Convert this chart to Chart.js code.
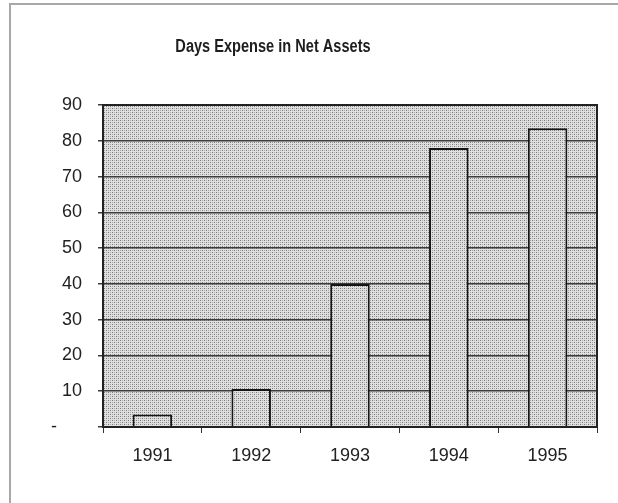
<!DOCTYPE html>
<html lang="en">
<head>
    <meta charset="UTF-8">
    <title>Days Expense in Net Assets</title>
    <script src="https://cdn.jsdelivr.net/npm/chart.js"></script>
    <style>
        html, body { margin: 0; padding: 0; background: #ffffff; }
        .wrap { position: relative; width: 618px; height: 503px; }
        .frame {
            position: absolute; left: 9px; top: 3px; right: -10px; bottom: -10px;
            border-left: 2px solid #a8a8a8; border-top: 2px solid #a8a8a8;
            pointer-events: none;
        }
        canvas { position: absolute; left: 0; top: 0; }
    </style>
</head>
<body>
    <div class="wrap">
        <canvas id="expenseChart" width="618" height="503"></canvas>
        <div class="frame"></div>
    </div>

    <script>
        // data
        const years = ['1991', '1992', '1993', '1994', '1995'];
        const daysExpense = [3.5, 10.6, 40, 78, 83.5];
        const yTicks = [0, 10, 20, 30, 40, 50, 60, 70, 80, 90];
        const chartTitle = 'Days Expense in Net Assets';

        // dotted fill like the printed screen
        function dotPattern() {
            const c = document.createElement('canvas');
            c.width = 4; c.height = 4;
            const g = c.getContext('2d');
            g.fillStyle = '#e0e0e0';
            g.fillRect(0, 0, 4, 4);
            g.fillStyle = '#7a7a7a';
            g.fillRect(0, 0, 1, 1);
            g.fillRect(2, 2, 1, 1);
            g.fillStyle = '#a8a8a8';
            g.fillRect(2, 0, 1, 1);
            g.fillRect(0, 2, 1, 1);
            return g.createPattern(c, 'repeat');
        }

        const ctx = document.getElementById('expenseChart').getContext('2d');
        const dots = dotPattern();

        // plot background, plot frame and the title
        const decor = {
            id: 'decor',
            beforeDraw(chart) {
                const a = chart.chartArea;
                const c = chart.ctx;
                c.save();
                c.fillStyle = dots;
                c.fillRect(a.left, a.top, a.right - a.left, a.bottom - a.top);
                c.restore();
            },
            afterDraw(chart) {
                const a = chart.chartArea;
                const c = chart.ctx;
                c.save();
                c.strokeStyle = '#222222';
                c.lineWidth = 2;
                c.strokeRect(a.left, a.top, a.right - a.left, a.bottom - a.top);
                // the scanned title is a condensed bold face
                c.translate(273, 47);
                c.scale(0.81, 1);
                c.fillStyle = '#1e1e1e';
                c.font = 'bold 18px "Liberation Sans", Arial, sans-serif';
                c.textAlign = 'center';
                c.textBaseline = 'middle';
                c.fillText(chartTitle, 0, 0);
                c.restore();
            }
        };

        new Chart(ctx, {
            type: 'bar',
            data: {
                labels: years,
                datasets: [{
                    data: daysExpense,
                    backgroundColor: dots,
                    borderColor: '#151515',
                    borderWidth: 2,
                    borderSkipped: 'bottom',
                    barPercentage: 0.4,
                    categoryPercentage: 1.0
                }]
            },
            options: {
                responsive: false,
                animation: false,
                layout: { padding: { left: 0, right: 21, top: 105, bottom: 36 } },
                scales: {
                    x: {
                        offset: true,
                        grid: {
                            offset: true,
                            drawOnChartArea: false,
                            drawTicks: true,
                            tickLength: 6,
                            color: '#333333'
                        },
                        border: { color: '#222222', width: 2 },
                        ticks: {
                            color: '#222222',
                            padding: 12,
                            font: { family: '"Liberation Sans", Arial, sans-serif', size: 18 }
                        },
                        afterFit(scale) { scale.height = 40; }
                    },
                    y: {
                        min: 0,
                        max: 90,
                        afterBuildTicks(scale) { scale.ticks = yTicks.map(v => ({ value: v })); },
                        grid: {
                            color: '#3c3c3c',
                            lineWidth: 1.5,
                            tickLength: 5
                        },
                        border: { color: '#222222', width: 2 },
                        ticks: {
                            color: '#222222',
                            padding: 16,
                            font: { family: '"Liberation Sans", Arial, sans-serif', size: 18 },
                            callback: v => v === 0 ? '-     ' : String(v)
                        },
                        afterFit(scale) { scale.width = 103; }
                    }
                },
                plugins: {
                    legend: { display: false },
                    tooltip: { enabled: false },
                    title: { display: false }
                }
            },
            plugins: [decor]
        });
    </script>
</body>
</html>
